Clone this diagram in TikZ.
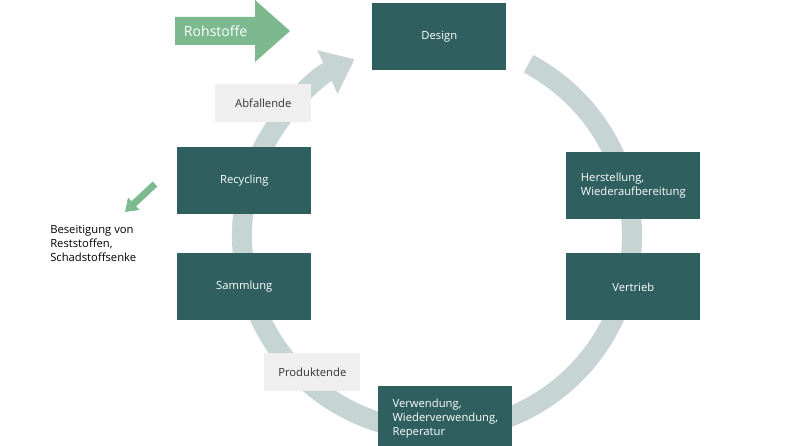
\documentclass[tikz,border=0pt]{standalone}
\usepackage{fontspec}
\setmainfont{Open Sans}
\usetikzlibrary{arrows.meta,positioning}
\definecolor{teal}{HTML}{2F5F5F}
\definecolor{ring}{HTML}{C6D4D4}
\definecolor{pale}{HTML}{EFEFEF}
\definecolor{leaf}{HTML}{7DB98E}
\tikzset{
  stage/.style={fill=teal,text=white,minimum width=3.35cm,minimum height=1.68cm,font=\fontsize{8}{10}\selectfont,align=left,inner sep=4pt},
  tag/.style={fill=pale,text=black!80,minimum width=2.4cm,minimum height=0.95cm,font=\fontsize{8}{10}\selectfont}
}
\begin{document}
\begin{tikzpicture}[x=0.025cm,y=-0.025cm]
  \useasboundingbox (0,0) rectangle (792,446);
  % ring
  \draw[ring,line width=0.5cm,-{Triangle[width=1.15cm,length=0.75cm]}]
    (437,236) ++(-62:195) arc[start angle=-62,end angle=245,radius=195];
  % stages
  \node[stage,anchor=north west] (design) at (372,3) {Design};
  \node[stage,anchor=north west] (herst) at (566,152) {Herstellung,\\Wiederaufbereitung};
  \node[stage,anchor=north west] (vertrieb) at (566,253) {Vertrieb};
  \node[stage,anchor=north west,minimum height=1.6cm] (verw) at (378,386) {Verwendung,\\Wiederverwendung,\\Reperatur};
  \node[stage,anchor=north west] (samml) at (177,253) {Sammlung};
  \node[stage,anchor=north west] (recyc) at (177,147) {Recycling};
  \node[tag,anchor=north west] (abfall) at (215,84) {Abfallende};
  \node[tag,anchor=north west] (produkt) at (264,353) {Produktende};
  % inputs and outputs
  \fill[leaf] (175,17) -- (255,17) -- (255,0) -- (290,31) -- (255,62) -- (255,45) -- (175,45) -- cycle;
  \node[text=white,font=\fontsize{10}{12}\selectfont,anchor=west] (roh) at (179,31) {Rohstoffe};
  \coordinate (out) at (155,184);
  \coordinate (sink) at (125,212);
  \draw[leaf,line width=0.17cm,-{Triangle[width=0.4cm,length=0.3cm]}] (out) -- (sink);
  \node[anchor=north west,align=left,font=\fontsize{8}{10}\selectfont,inner sep=0] (besei) at (50,225) {Beseitigung von\\Reststoffen,\\Schadstoffsenke};
\end{tikzpicture}
\end{document}
